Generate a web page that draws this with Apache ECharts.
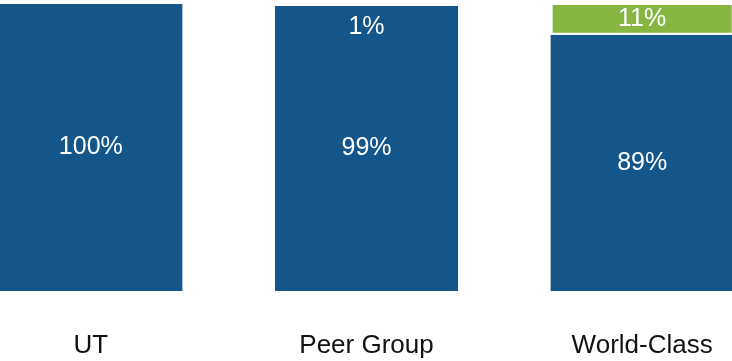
<!DOCTYPE html>
<html>
<head>
<meta charset="utf-8">
<script src="https://cdn.jsdelivr.net/npm/echarts@6/dist/echarts.min.js"></script>
<style>
  html, body { margin: 0; padding: 0; background: #fff; }
  #chart { width: 732px; height: 361px; }
</style>
</head>
<body>
<div id="chart"></div>
<script>
// Share of each group, split into two parts (percent)
const categories = ['UT', 'Peer Group', 'World-Class'];
const baseShare = [100, 99, 89];
const topShare = [0, 1, 11];

const FONT = '"Liberation Sans", Arial, sans-serif';
const BLUE = '#14568a';
const GREEN = '#86b541';

// Thin top segments get their label pushed just below them, into the blue part
const topData = topShare.map(v => {
  if (v === 0) return { value: v, label: { show: false } };
  if (v < 5) return { value: v, label: { position: 'bottom', distance: 9 } };
  return v;
});

const chart = echarts.init(document.getElementById('chart'), null, { renderer: 'canvas' });
chart.setOption({
  animation: false,
  grid: { left: -47, right: -48, top: 3, bottom: 70, outerBoundsMode: 'none', containLabel: false },
  xAxis: {
    type: 'category',
    data: categories,
    axisLine: { show: false },
    axisTick: { show: false },
    axisLabel: { color: '#111', fontFamily: FONT, fontSize: 26, margin: 42 }
  },
  yAxis: {
    type: 'value',
    min: 0,
    max: 100,
    show: false,
    splitLine: { show: false }
  },
  series: [
    {
      type: 'bar',
      stack: 'share',
      barWidth: '66.4%',
      data: baseShare,
      itemStyle: { color: BLUE },
      label: {
        show: true,
        position: 'inside',
        formatter: '{c}%',
        color: '#fff',
        fontFamily: FONT,
        fontSize: 25
      }
    },
    {
      type: 'bar',
      stack: 'share',
      data: topData,
      itemStyle: { color: GREEN, borderColor: '#fff', borderWidth: 2 },
      label: {
        show: true,
        position: 'inside',
        formatter: '{c}%',
        color: '#fff',
        fontFamily: FONT,
        fontSize: 25
      }
    }
  ]
});
</script>
</body>
</html>
